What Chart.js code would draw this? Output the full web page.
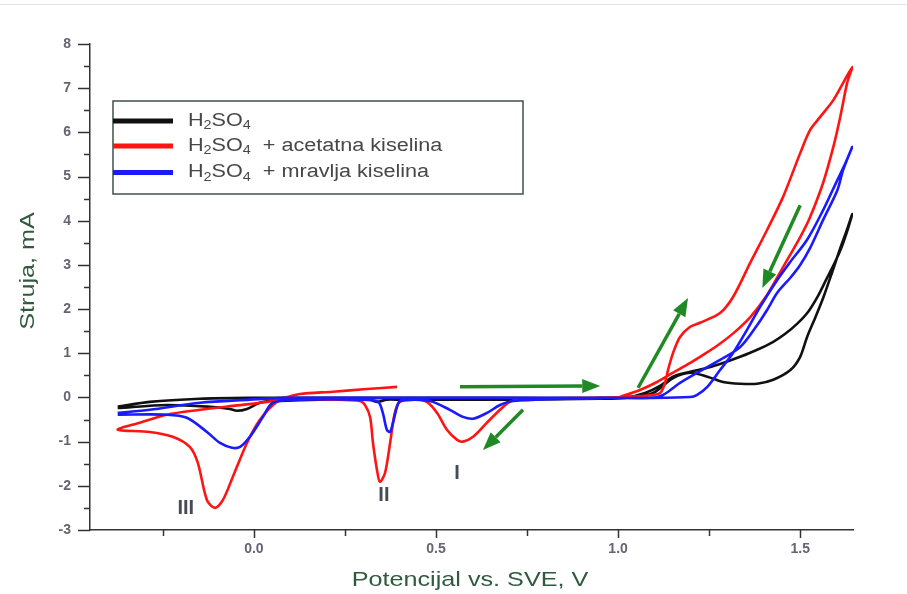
<!DOCTYPE html>
<html>
<head>
<meta charset="utf-8">
<script src="https://cdn.jsdelivr.net/npm/chart.js@4.4.1/dist/chart.umd.min.js"></script>
<style>
  html, body { margin: 0; padding: 0; background: #ffffff; }
  canvas { display: block; }
</style>
</head>
<body>
<canvas id="cv" width="907" height="594"></canvas>
<script>
// Ciklicni voltamogrami, potencijal (V vs. SVE) i struja (mA)
const blackV = [-0.374,-0.286,-0.148,-0.011,0.126,0.401,0.676,0.951,1.041,1.096,1.151,1.198,1.245,1.288,1.335,1.382,1.426,1.473,1.500,1.519,1.541,1.563,1.588,1.610,1.626,1.643,
  1.632,1.615,1.596,1.571,1.549,1.522,1.492,1.459,1.426,1.382,1.335,1.288,1.245,1.198,1.151,1.115,1.074,1.019,0.951,0.731,0.538,0.401,0.365,0.338,0.310,0.181,0.071,0.044,0.016,-0.019,-0.047,-0.066,-0.121,-0.239,-0.374];
const blackI = [-0.21,-0.10,-0.03,-0.01,-0.01,-0.01,-0.01,-0.01,0.01,0.10,0.44,0.56,0.47,0.35,0.31,0.31,0.40,0.62,0.92,1.37,1.80,2.25,2.84,3.38,3.74,4.15,
  3.84,3.43,3.07,2.66,2.30,1.94,1.67,1.44,1.26,1.08,0.92,0.78,0.67,0.58,0.47,0.26,0.10,-0.01,-0.03,-0.05,-0.05,-0.05,-0.05,-0.10,-0.03,-0.05,-0.08,-0.08,-0.12,-0.26,-0.30,-0.26,-0.21,-0.17,-0.24];

const redV = [0.393,0.310,0.217,0.126,0.091,0.036,-0.058,-0.148,-0.239,-0.313,-0.374,
  -0.286,-0.223,-0.176,-0.154,-0.129,-0.107,-0.085,-0.058,-0.019,0.016,0.063,0.099,
  0.209,0.291,0.305,0.319,0.327,0.338,0.346,0.360,0.374,0.387,0.401,0.442,0.475,0.503,0.530,0.558,0.574,0.602,0.640,0.676,0.703,0.745,0.951,1.014,1.074,1.115,
  1.129,1.137,1.151,1.170,1.198,1.225,1.280,1.316,1.363,1.409,1.453,1.500,1.527,1.555,1.591,1.618,1.643,
  1.629,1.610,1.591,1.563,1.527,1.500,1.453,1.409,1.363,1.316,1.272,1.225,1.198,1.151,1.107,1.060,1.005];
const redI = [0.24,0.19,0.13,0.08,0.01,-0.10,-0.19,-0.28,-0.39,-0.57,-0.73,
  -0.78,-0.89,-1.12,-1.48,-2.32,-2.50,-2.32,-1.80,-1.03,-0.51,-0.10,-0.03,
  -0.05,-0.08,-0.17,-0.44,-1.03,-1.64,-1.91,-1.71,-1.03,-0.35,-0.10,-0.05,-0.10,-0.35,-0.73,-0.96,-1.00,-0.89,-0.57,-0.28,-0.10,-0.03,-0.01,0.01,0.04,0.10,
  0.33,0.62,1.01,1.37,1.60,1.69,1.91,2.28,3.05,3.79,4.54,5.53,6.05,6.35,6.73,7.12,7.48,
  7.12,6.35,5.67,4.86,4.08,3.63,2.95,2.32,1.82,1.45,1.17,0.92,0.78,0.56,0.35,0.17,0.01];

const blueV = [-0.374,-0.286,-0.148,-0.011,0.080,0.264,0.538,0.813,1.088,1.198,1.217,1.245,1.280,1.316,1.354,1.390,1.437,1.473,1.519,1.563,1.602,1.624,1.643,
  1.618,1.602,1.563,1.527,1.500,1.473,1.437,1.409,1.382,1.335,1.280,1.217,1.170,1.124,1.088,0.951,
  0.712,0.676,0.640,0.602,0.574,0.538,0.492,0.456,
  0.401,0.393,0.382,0.374,0.365,0.354,0.341,0.291,
  0.126,0.052,0.025,-0.011,-0.038,-0.060,-0.093,-0.129,-0.184,-0.239,-0.374];
const blueI = [-0.35,-0.28,-0.12,-0.05,-0.01,-0.01,-0.01,-0.01,-0.01,0.01,0.06,0.24,0.62,1.01,1.53,2.05,2.66,3.07,3.57,4.24,4.92,5.30,5.67,
  5.15,4.69,4.02,3.38,3.00,2.71,2.37,1.98,1.64,1.14,0.85,0.56,0.33,0.06,-0.01,-0.01,
  -0.08,-0.17,-0.35,-0.48,-0.44,-0.28,-0.10,-0.05,
  -0.08,-0.21,-0.57,-0.78,-0.73,-0.35,-0.10,-0.05,
  -0.05,-0.12,-0.44,-0.89,-1.12,-1.14,-1.03,-0.78,-0.46,-0.39,-0.39];

const xTicks = [-0.25, 0, 0.25, 0.5, 0.75, 1.0, 1.25, 1.5];
const yTicks = [-3,-2.5,-2,-1.5,-1,-0.5,0,0.5,1,1.5,2,2.5,3,3.5,4,4.5,5,5.5,6,6.5,7,7.5,8];

const legendLabels = [
  ['H', '2', 'SO', '4', ''],
  ['H', '2', 'SO', '4', '  + acetatna kiselina'],
  ['H', '2', 'SO', '4', '  + mravlja kiselina'],
];
const peakLabels = [
  { text: 'III', v: -0.187, i: -2.52 },
  { text: 'II',  v: 0.357,  i: -2.23 },
  { text: 'I',   v: 0.558,  i: -1.73 },
];
// strelice smjera skeniranja: [V1, I1, V2, I2]
const scanArrows = [
  [0.566, 0.24, 0.951, 0.26],
  [0.739, -0.28, 0.629, -1.19],
  [1.055, 0.22, 1.192, 2.25],
  [1.500, 4.35, 1.396, 2.48],
];

const COLORS = ['#111111', '#ff1414', '#1a1aff'];
const GREEN = '#1f8a24';
const TITLE_COLOR = '#2f5a3e';
const FONT = "'Liberation Sans', Arial, sans-serif";

const toPts = (vs, is) => vs.map((v, k) => ({ x: v, y: is[k] }));

function drawArrow(ctx, x1, y1, x2, y2) {
  const ang = Math.atan2(y2 - y1, x2 - x1);
  const head = 18, half = 7;
  const bx = x2 - head * Math.cos(ang), by = y2 - head * Math.sin(ang);
  ctx.beginPath();
  ctx.moveTo(x1, y1);
  ctx.lineTo(bx, by);
  ctx.stroke();
  ctx.beginPath();
  ctx.moveTo(x2, y2);
  ctx.lineTo(bx + half * Math.sin(ang), by - half * Math.cos(ang));
  ctx.lineTo(bx - half * Math.sin(ang), by + half * Math.cos(ang));
  ctx.closePath();
  ctx.fill();
}

const decor = {
  id: 'decor',
  beforeDraw(chart) {
    const ctx = chart.ctx;
    ctx.save();
    ctx.strokeStyle = '#e4e4e4';
    ctx.lineWidth = 1;
    ctx.beginPath();
    ctx.moveTo(0, 4.5);
    ctx.lineTo(chart.width, 4.5);
    ctx.stroke();
    ctx.restore();
  },
  afterDraw(chart) {
    const { ctx, chartArea: a, scales: { x, y } } = chart;
    ctx.save();

    // kvacice na osama
    ctx.strokeStyle = '#333333';
    ctx.lineWidth = 1.5;
    yTicks.forEach(v => {
      const py = Math.round(y.getPixelForValue(v)) + 0.5;
      const len = Number.isInteger(v) ? 12 : 6;
      ctx.beginPath();
      ctx.moveTo(a.left - len, py);
      ctx.lineTo(a.left, py);
      ctx.stroke();
    });
    xTicks.forEach(v => {
      const px = Math.round(x.getPixelForValue(v)) + 0.5;
      const len = (v * 2) % 1 === 0 ? 8 : 6;
      ctx.beginPath();
      ctx.moveTo(px, a.bottom);
      ctx.lineTo(px, a.bottom + len);
      ctx.stroke();
    });

    // strelice
    ctx.strokeStyle = GREEN;
    ctx.fillStyle = GREEN;
    ctx.lineWidth = 3.5;
    scanArrows.forEach(([v1, i1, v2, i2]) => {
      drawArrow(ctx, x.getPixelForValue(v1), y.getPixelForValue(i1),
                     x.getPixelForValue(v2), y.getPixelForValue(i2));
    });

    // oznake pikova
    ctx.fillStyle = '#464b58';
    ctx.font = `bold 20px ${FONT}`;
    ctx.textAlign = 'center';
    ctx.textBaseline = 'middle';
    peakLabels.forEach(p => {
      ctx.fillText(p.text, x.getPixelForValue(p.v), y.getPixelForValue(p.i));
    });

    // naslovi osi
    ctx.fillStyle = TITLE_COLOR;
    ctx.font = `21px ${FONT}`;
    ctx.save();
    ctx.translate(470, 580);
    ctx.scale(1.2, 1);
    ctx.fillText('Potencijal vs. SVE, V', 0, 0);
    ctx.restore();
    ctx.save();
    ctx.translate(28, 271);
    ctx.rotate(-Math.PI / 2);
    ctx.scale(1.2, 1);
    ctx.fillText('Struja, mA', 0, 0);
    ctx.restore();

    // legenda
    const box = { l: 113, t: 101, r: 523, b: 194 };
    ctx.strokeStyle = '#3f5346';
    ctx.lineWidth = 1.5;
    ctx.strokeRect(box.l, box.t, box.r - box.l, box.b - box.t);
    const rows = [121, 146, 172.5];
    legendLabels.forEach((parts, k) => {
      ctx.strokeStyle = COLORS[k];
      ctx.lineWidth = 5;
      ctx.beginPath();
      ctx.moveTo(box.l, rows[k]);
      ctx.lineTo(173, rows[k]);
      ctx.stroke();

      ctx.save();
      ctx.translate(188, rows[k]);
      ctx.scale(1.2, 1);
      ctx.fillStyle = '#474747';
      ctx.textAlign = 'left';
      ctx.textBaseline = 'middle';
      let cx = 0;
      parts.forEach((txt, j) => {
        const sub = j === 1 || j === 3;
        ctx.font = sub ? `12px ${FONT}` : `18px ${FONT}`;
        ctx.fillText(txt, cx, sub ? 5 : 0);
        cx += ctx.measureText(txt).width;
      });
      ctx.restore();
    });

    ctx.restore();
  }
};

const tickFont = { family: FONT, size: 14, weight: 'bold' };

new Chart(document.getElementById('cv'), {
  type: 'scatter',
  data: {
    datasets: [
      { label: 'H2SO4', data: toPts(blackV, blackI), borderColor: COLORS[0], order: 2 },
      { label: 'H2SO4 + acetatna kiselina', data: toPts(redV, redI), borderColor: COLORS[1], order: 1 },
      { label: 'H2SO4 + mravlja kiselina', data: toPts(blueV, blueI), borderColor: COLORS[2], order: 0 },
    ].map(d => Object.assign(d, {
      showLine: true, pointRadius: 0, borderWidth: 2.6, tension: 0.3, fill: false,
    })),
  },
  options: {
    responsive: false,
    animation: false,
    layout: { padding: { top: 44, right: 54, left: 0, bottom: 0 } },
    plugins: { legend: { display: false }, tooltip: { enabled: false } },
    scales: {
      x: {
        type: 'linear', min: -0.45, max: 1.645,
        afterBuildTicks: s => { s.ticks = xTicks.map(v => ({ value: v })); },
        afterFit: s => { s.height = 64; },
        ticks: {
          autoSkip: false, maxRotation: 0, padding: 11, color: '#646472', font: tickFont,
          callback: v => ((v * 2) % 1 === 0 ? v.toFixed(1) : ''),
        },
        grid: { drawOnChartArea: false, drawTicks: false },
        border: { display: true, color: '#333333', width: 1.5 },
      },
      y: {
        type: 'linear', min: -3, max: 8,
        afterBuildTicks: s => { s.ticks = yTicks.map(v => ({ value: v })); },
        afterFit: s => { s.width = 90; },
        ticks: {
          autoSkip: false, padding: 19, color: '#646472', font: tickFont,
          callback: v => (Number.isInteger(v) ? String(v) : ''),
        },
        grid: { drawOnChartArea: false, drawTicks: false },
        border: { display: true, color: '#333333', width: 1.5 },
      },
    },
  },
  plugins: [decor],
});
</script>
</body>
</html>
